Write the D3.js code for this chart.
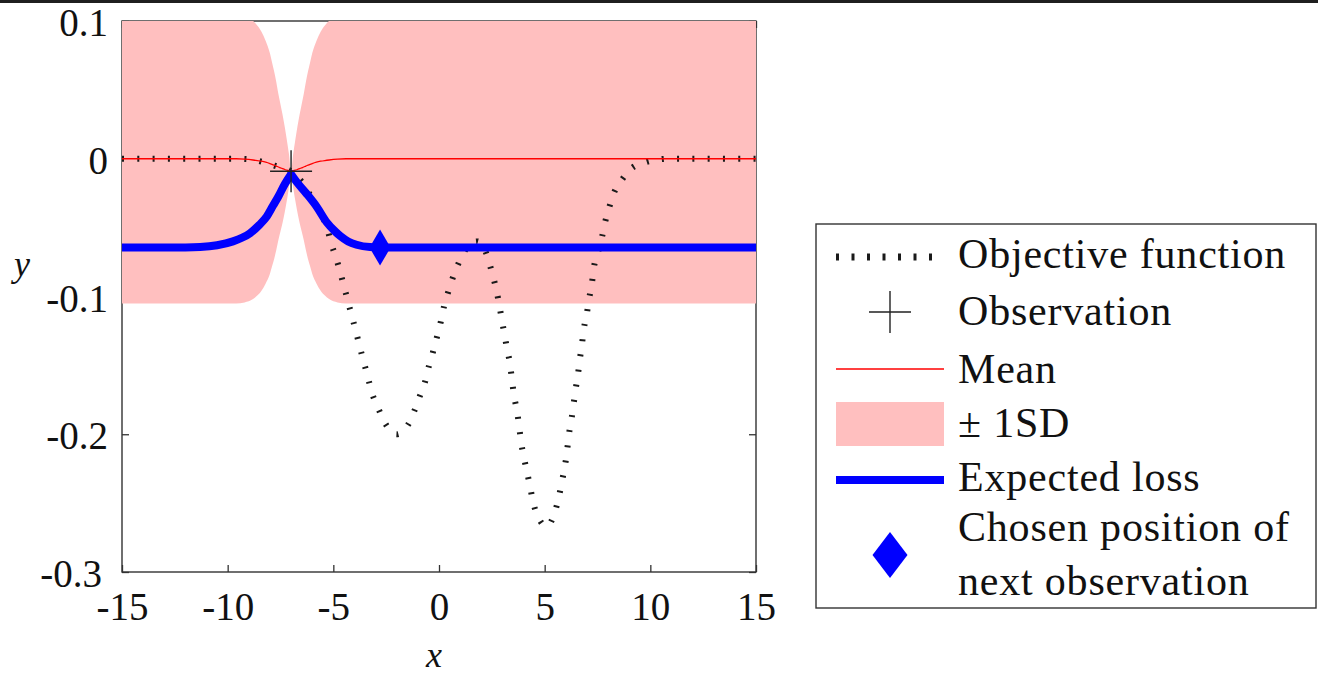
<!DOCTYPE html>
<html>
<head>
<meta charset="utf-8">
<script src="https://cdn.jsdelivr.net/npm/d3@7"></script>
<style>
  html, body { margin: 0; padding: 0; background: #ffffff; }
  svg { display: block; }
  text { font-family: "Liberation Serif", "Times New Roman", serif; fill: #111111; }
</style>
</head>
<body>
<svg id="chart" width="1318" height="676"></svg>
<script>
// Axis ticks
const xTicks = [-15, -10, -5, 0, 5, 10, 15];
const yTicks = [0.1, 0, -0.1, -0.2, -0.3];
const yTickLabels = ["0.1", "0", "-0.1", "-0.2", "-0.3"];

// Objective function (true function being minimised)
const objX = [-15, -9.5, -9.0, -8.3, -7.6, -7.0, -6.3, -5.97, -5.63, -5.30, -5.11, -4.87, -4.68, -4.49, -4.30,
  -4.11, -3.92, -3.74, -3.55, -3.36, -3.17, -2.88, -2.51, -2.0, -1.46, -1.14, -0.90, -0.66, -0.47, -0.28,
  -0.09, 0.09, 0.24, 0.43, 0.66, 0.95, 1.35, 1.8, 2.27, 2.46, 2.65, 2.79, 2.93, 3.08, 3.22, 3.36, 3.45,
  3.55, 3.69, 3.79, 3.88, 4.02, 4.16, 4.31, 4.45, 4.69, 5.10, 5.49, 5.68, 5.82, 5.96, 6.06, 6.15, 6.27,
  6.37, 6.47, 6.58, 6.67, 6.77, 6.86, 7.00, 7.10, 7.24, 7.33, 7.52, 7.71, 7.86, 8.05, 8.28, 8.66, 9.09,
  9.75, 10.4, 10.8, 15];
const objY = [0, 0, -0.0003, -0.0025, -0.006, -0.0092, -0.021, -0.030, -0.039, -0.050, -0.061, -0.072, -0.082, -0.093, -0.104,
  -0.115, -0.126, -0.137, -0.148, -0.159, -0.170, -0.181, -0.193, -0.200, -0.193, -0.182, -0.172, -0.162, -0.150, -0.140,
  -0.129, -0.118, -0.107, -0.097, -0.086, -0.075, -0.064, -0.060, -0.070, -0.080, -0.091, -0.101, -0.113, -0.126, -0.138, -0.149, -0.160,
  -0.172, -0.183, -0.194, -0.205, -0.217, -0.227, -0.238, -0.249, -0.260, -0.267, -0.256, -0.245, -0.234, -0.223, -0.212, -0.200, -0.189,
  -0.178, -0.167, -0.156, -0.145, -0.134, -0.123, -0.112, -0.102, -0.090, -0.079, -0.068, -0.057, -0.046, -0.0356, -0.0247, -0.0152, -0.0073,
  -0.0027, -0.0005, 0, 0];

// Gaussian-process posterior: mean and standard deviation
const gpX = [-15, -9.6, -9.2, -8.8, -8.6, -8.4, -8.2, -8.0, -7.9, -7.8, -7.7, -7.6, -7.5, -7.4, -7.3, -7.2, -7.1,
  -7.0, -6.9, -6.8, -6.7, -6.6, -6.5, -6.4, -6.3, -6.2, -6.1, -6.0, -5.8, -5.6, -5.4, -5.2, -4.8, -4.4, 15];
const gpMean = [0, 0, -0.0003, -0.0009, -0.0013, -0.0018, -0.0025, -0.0035, -0.0041, -0.0047, -0.0053, -0.0060, -0.0066, -0.0072, -0.0078, -0.0083, -0.0086,
  -0.0088, -0.0086, -0.0083, -0.0078, -0.0072, -0.0066, -0.0060, -0.0053, -0.0047, -0.0041, -0.0035, -0.0025, -0.0018, -0.0013, -0.0009, -0.0003, 0, 0];
const gpSD = [0.105, 0.105, 0.104, 0.101, 0.098, 0.094, 0.088, 0.080, 0.074, 0.068, 0.061, 0.053, 0.046, 0.039, 0.031, 0.022, 0.012,
  0, 0.012, 0.022, 0.031, 0.039, 0.046, 0.053, 0.061, 0.068, 0.074, 0.080, 0.088, 0.094, 0.098, 0.101, 0.104, 0.105, 0.105];

// Expected loss
const lossX = [-15, -12, -11.3, -10.5, -9.75, -9.3, -8.94, -8.5, -8.15, -7.85, -7.6, -7.3, -7.0,
  -6.7, -6.26, -5.78, -5.31, -4.9, -4.68, -4.3, -3.9, -3.27, -2.5, 15];
const lossY = [-0.0645, -0.0644, -0.0641, -0.0628, -0.0600, -0.0572, -0.0540, -0.0480, -0.0419, -0.0340, -0.0274, -0.0185, -0.0112,
  -0.0175, -0.0255, -0.0350, -0.0462, -0.0530, -0.0560, -0.0600, -0.0624, -0.0641, -0.0645, -0.0645];

// Observation and chosen next position
const obsX = [-7.0];
const obsY = [-0.0091];
const nextX = [-2.79];
const nextY = [-0.0645];

const legendLabels = ["Objective function", "Observation", "Mean", "\u00b1 1SD", "Expected loss",
  ["Chosen position of", "next observation"]];

// ---------------------------------------------------------------------------
const W = 1318, H = 676;
const plot = { left: 122, right: 756, top: 21, bottom: 572 };
const ink = "#111111", axisInk = "#333333";
const pink = "#ffbfbf", blue = "#0000ff", red = "#ff0000";
const fontFamily = "'Liberation Serif', 'Times New Roman', serif";
const tickFont = 39;

const svg = d3.select("#chart");

// thin dark strip along the top edge
svg.append("rect").attr("x", 0).attr("y", 0).attr("width", W).attr("height", 3).attr("fill", "#1f1f1f");

const x = d3.scaleLinear().domain([-15, 15]).range([plot.left, plot.right]);
const y = d3.scaleLinear().domain([-0.3, 0.1]).range([plot.bottom, plot.top]);

svg.append("defs").append("clipPath").attr("id", "plot-clip")
  .append("rect")
  .attr("x", plot.left).attr("y", plot.top)
  .attr("width", plot.right - plot.left).attr("height", plot.bottom - plot.top);

// ---- axes box with inward ticks ----
function styleAxis(g) {
  g.attr("font-family", fontFamily).attr("font-size", tickFont);
  g.select(".domain").remove();
  g.selectAll(".tick line").attr("stroke", axisInk).attr("stroke-width", 1.3);
  g.selectAll(".tick text").attr("fill", ink);
}
const gBottom = svg.append("g")
  .attr("transform", `translate(0,${plot.bottom})`)
  .call(d3.axisBottom(x).tickValues(xTicks).tickSizeInner(-7).tickSizeOuter(0)
    .tickPadding(20).tickFormat(d => String(d)));
styleAxis(gBottom);

const gLeft = svg.append("g")
  .attr("transform", `translate(${plot.left},0)`)
  .call(d3.axisLeft(y).tickValues(yTicks).tickSizeInner(-7).tickSizeOuter(0)
    .tickPadding(14).tickFormat((d, i) => yTickLabels[i]));
styleAxis(gLeft);
gLeft.selectAll(".tick text").attr("dy", 14.5);
// lowest label steps aside from the first x label
gLeft.selectAll(".tick text").filter(d => d === -0.3).attr("x", -20);

const gTop = svg.append("g").attr("transform", `translate(0,${plot.top})`)
  .call(d3.axisTop(x).tickValues(xTicks).tickSizeInner(-7).tickSizeOuter(0).tickFormat(""));
styleAxis(gTop);
const gRight = svg.append("g").attr("transform", `translate(${plot.right},0)`)
  .call(d3.axisRight(y).tickValues(yTicks).tickSizeInner(-7).tickSizeOuter(0).tickFormat(""));
styleAxis(gRight);

svg.append("rect")
  .attr("x", plot.left).attr("y", plot.top)
  .attr("width", plot.right - plot.left).attr("height", plot.bottom - plot.top)
  .attr("fill", "none").attr("stroke", axisInk).attr("stroke-width", 1.4);

// axis titles
svg.append("text").attr("x", 434).attr("y", 667).attr("text-anchor", "middle")
  .attr("font-size", 36).attr("font-style", "italic").text("x");
svg.append("text").attr("x", 22).attr("y", 276).attr("text-anchor", "middle")
  .attr("font-size", 36).attr("font-style", "italic").text("y");

// ---- data layers ----
const layers = svg.append("g").attr("clip-path", "url(#plot-clip)");

// ±1 SD band
const band = d3.area()
  .x(i => x(gpX[i]))
  .y0(i => y(gpMean[i] - gpSD[i]))
  .y1(i => y(gpMean[i] + gpSD[i]))
  .curve(d3.curveMonotoneX);
layers.append("path").attr("d", band(d3.range(gpX.length))).attr("fill", pink);

// objective function (dotted)
const objLine = d3.line().x(i => x(objX[i])).y(i => y(objY[i])).curve(d3.curveMonotoneX);
layers.append("path").attr("d", objLine(d3.range(objX.length)))
  .attr("fill", "none").attr("stroke", "#1a1a1a").attr("stroke-width", 6)
  .attr("stroke-dasharray", "2,13.3");

// posterior mean
const meanLine = d3.line().x(i => x(gpX[i])).y(i => y(gpMean[i])).curve(d3.curveMonotoneX);
layers.append("path").attr("d", meanLine(d3.range(gpX.length)))
  .attr("fill", "none").attr("stroke", red).attr("stroke-width", 1.3);

// observation marker
function crossPath(cx, cy, r) {
  return `M${cx - r},${cy}H${cx + r}M${cx},${cy - r}V${cy + r}`;
}
svg.append("g").selectAll("path").data(obsX).join("path")
  .attr("d", (d, i) => crossPath(x(d), y(obsY[i]), 21))
  .attr("fill", "none").attr("stroke", "#222222").attr("stroke-width", 1.4);

// expected loss: two smooth branches meeting at the observed point
const tip = lossY.indexOf(d3.max(lossY));
const lossLine = d3.line().x(i => x(lossX[i])).y(i => y(lossY[i])).curve(d3.curveMonotoneX);
const leftPart = lossLine(d3.range(0, tip + 1));
const rightPart = lossLine(d3.range(tip, lossX.length)).replace(/^M/, "L");
layers.append("path").attr("d", leftPart + rightPart)
  .attr("fill", "none").attr("stroke", blue).attr("stroke-width", 8)
  .attr("stroke-linejoin", "round");

// chosen next observation
function diamondPath(cx, cy, hw, hh) {
  return `M${cx},${cy - hh}L${cx + hw},${cy}L${cx},${cy + hh}L${cx - hw},${cy}Z`;
}
svg.append("g").selectAll("path").data(nextX).join("path")
  .attr("d", (d, i) => diamondPath(x(d), y(nextY[i]), 10.5, 18))
  .attr("fill", blue);

// ---- legend ----
const lg = svg.append("g").attr("font-size", 42).attr("letter-spacing", 0.8);
lg.append("rect").attr("x", 816).attr("y", 224).attr("width", 500).attr("height", 384)
  .attr("fill", "#ffffff").attr("stroke", axisInk).attr("stroke-width", 1.4);

const sx0 = 836, sx1 = 944, scx = 890, tx = 958;
const baselines = [268, 325, 383, 437, 491, 541];

lg.append("line").attr("x1", sx0).attr("x2", 932).attr("y1", 257).attr("y2", 257)
  .attr("stroke", "#1a1a1a").attr("stroke-width", 7).attr("stroke-dasharray", "3,12.5");
lg.append("path").attr("d", crossPath(scx, 312, 21))
  .attr("fill", "none").attr("stroke", "#222222").attr("stroke-width", 1.4);
lg.append("line").attr("x1", sx0).attr("x2", sx1).attr("y1", 369).attr("y2", 369)
  .attr("stroke", red).attr("stroke-width", 1.3);
lg.append("rect").attr("x", sx0).attr("y", 402).attr("width", sx1 - sx0).attr("height", 44)
  .attr("fill", pink);
lg.append("line").attr("x1", sx0).attr("x2", sx1).attr("y1", 480).attr("y2", 480)
  .attr("stroke", blue).attr("stroke-width", 8);
lg.append("path").attr("d", diamondPath(scx, 555, 17.5, 23)).attr("fill", blue);

legendLabels.forEach((lab, i) => {
  const t = lg.append("text").attr("x", tx).attr("y", baselines[i]);
  if (Array.isArray(lab)) {
    lab.forEach((line, j) => {
      t.append("tspan").attr("x", tx).attr("dy", j === 0 ? 0 : 54).text(line);
    });
  } else {
    t.text(lab);
  }
});
</script>
</body>
</html>
